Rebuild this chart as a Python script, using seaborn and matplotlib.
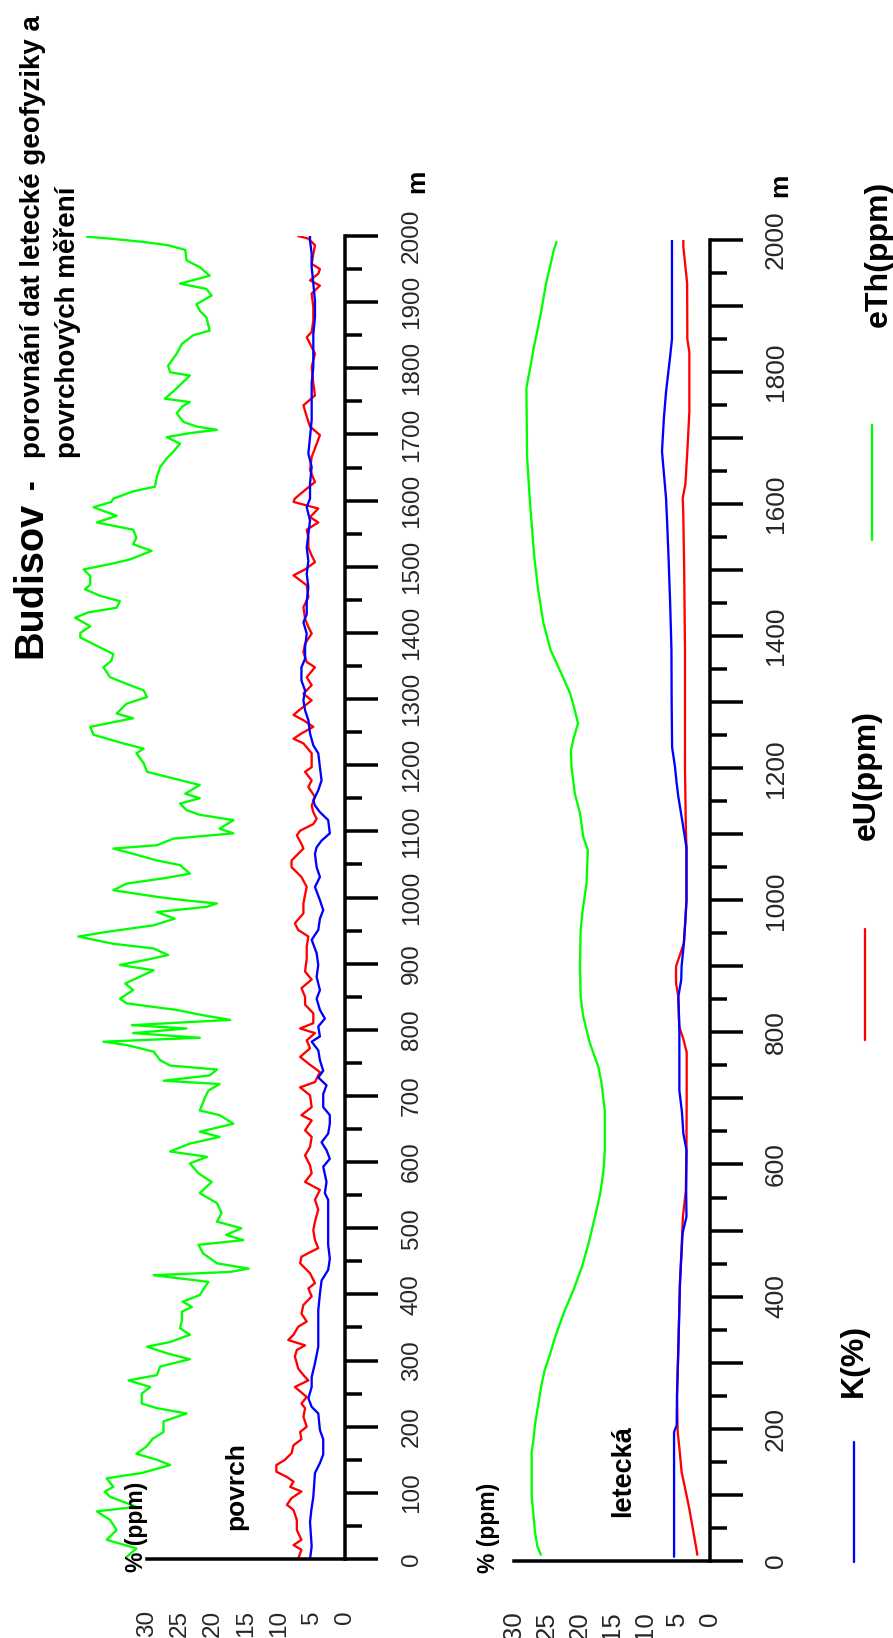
import matplotlib
matplotlib.use("Agg")
import matplotlib.pyplot as plt
import seaborn as sns
from matplotlib.lines import Line2D
from matplotlib.ticker import FixedLocator, FixedFormatter

sns.set_style("white")
plt.rcParams['font.family'] = ['Liberation Sans', 'DejaVu Sans']

# ---------------- data: surface measurement (povrch) ----------------
POV_ETH_D = [3, 16, 29, 44, 59, 72, 79, 94, 102, 109, 122, 130, 142, 150, 159, 170, 182, 192, 208, 220,
             228, 235, 250, 260, 270, 278, 291, 302, 311, 321, 328, 339, 349, 361, 374, 381, 389, 399, 407, 419,
             429, 434, 439, 447, 462, 475, 482, 490, 500, 510, 523, 538, 553, 570, 583, 598, 608, 616, 628, 638,
             646, 658, 671, 678, 698, 708, 718, 723, 731, 740, 746, 754, 767, 777, 782, 788, 795, 802, 807, 815,
             822, 830, 840, 847, 860, 870, 890, 898, 906, 913, 923, 930, 941, 948, 958, 968, 978, 986, 991, 996,
             1001, 1011, 1021, 1029, 1036, 1049, 1056, 1066, 1074, 1079, 1089, 1097, 1104, 1117, 1125, 1132, 1142,
             1150, 1157, 1170, 1180, 1190, 1203, 1218, 1225, 1233, 1246, 1258, 1266, 1271, 1278, 1293, 1303, 1313,
             1323, 1333, 1348, 1358, 1368, 1378, 1393, 1400, 1410, 1423, 1431, 1438, 1448, 1456, 1466, 1473, 1486,
             1496, 1504, 1511, 1524, 1534, 1544, 1556, 1567, 1577, 1590, 1598, 1603, 1614, 1621, 1636, 1651, 1664,
             1674, 1686, 1696, 1702, 1707, 1712, 1719, 1732, 1742, 1749, 1754, 1767, 1789, 1794, 1804, 1822, 1837,
             1850, 1857, 1877, 1887, 1897, 1910, 1920, 1928, 1940, 1953, 1963, 1979, 1986, 1991, 1996, 1999]
POV_ETH_V = [33.1, 31.6, 36.1, 34.6, 35.6, 37.6, 31.6, 35.6, 36.4, 35.1, 36.1, 30.8, 26.5, 28.5, 31.6, 30.1,
             29.1, 27.5, 27.5, 24.0, 28.5, 30.8, 30.8, 29.5, 32.8, 28.5, 28.0, 23.5, 27.0, 30.0, 26.5, 23.5, 25.0,
             24.7, 24.7, 23.2, 24.6, 22.0, 21.5, 20.7, 29.0, 17.4, 14.6, 19.4, 21.5, 22.2, 15.4, 18.0, 15.7, 19.4,
             18.7, 19.4, 22.0, 20.2, 22.2, 23.5, 20.9, 26.5, 23.5, 19.0, 22.0, 16.9, 19.0, 22.0, 21.2, 20.7, 19.0,
             27.5, 20.5, 19.4, 26.5, 28.0, 29.0, 33.1, 36.6, 22.0, 32.1, 24.0, 32.3, 17.4, 21.5, 25.5, 33.1, 34.1,
             32.1, 33.3, 29.0, 34.1, 30.0, 26.8, 29.0, 35.1, 40.4, 36.1, 29.0, 25.8, 28.5, 20.9, 19.4, 24.5, 28.5,
             35.1, 33.1, 27.5, 23.5, 25.0, 28.5, 32.1, 35.1, 28.5, 26.0, 16.9, 19.0, 16.9, 22.0, 24.0, 25.0, 22.0,
             24.2, 22.0, 26.0, 30.0, 30.5, 31.6, 30.5, 33.6, 38.1, 38.6, 34.6, 32.1, 34.6, 33.1, 30.0, 30.5, 33.1,
             35.6, 36.6, 35.4, 35.1, 37.1, 40.1, 40.1, 38.6, 40.9, 38.9, 34.6, 34.1, 37.1, 39.4, 38.6, 38.6, 39.6,
             35.6, 32.6, 29.3, 32.1, 31.6, 32.1, 37.6, 34.6, 38.1, 35.4, 35.1, 32.1, 28.8, 28.5, 28.0, 27.0, 26.0,
             25.0, 27.0, 23.5, 19.4, 22.5, 24.5, 25.5, 24.7, 23.5, 27.3, 25.8, 23.5, 26.5, 26.8, 25.5, 24.7, 23.0,
             20.5, 21.0, 22.0, 22.5, 20.2, 21.0, 25.0, 20.5, 22.0, 24.0, 24.2, 26.8, 30.5, 35.6, 39.1]

POV_EU_D = [0, 14, 21, 29, 44, 59, 74, 82, 92, 102, 109, 117, 124, 132, 142, 150, 160, 172, 181, 192, 200,
            215, 228, 235, 245, 260, 270, 278, 288, 296, 306, 316, 323, 331, 339, 351, 359, 371, 384, 397, 409,
            417, 432, 447, 457, 470, 482, 497, 510, 528, 543, 558, 570, 583, 595, 610, 623, 638, 648, 663, 671,
            683, 701, 713, 721, 736, 749, 759, 772, 784, 795, 802, 810, 825, 838, 850, 863, 876, 888, 908, 926,
            941, 951, 961, 976, 991, 1004, 1016, 1031, 1046, 1056, 1066, 1074, 1081, 1094, 1101, 1111, 1119, 1129,
            1139, 1152, 1167, 1177, 1190, 1197, 1218, 1233, 1240, 1248, 1258, 1268, 1276, 1286, 1298, 1308, 1321,
            1333, 1348, 1356, 1371, 1384, 1399, 1409, 1421, 1439, 1454, 1472, 1487, 1496, 1507, 1517, 1529, 1544,
            1556, 1567, 1575, 1588, 1598, 1603, 1616, 1628, 1646, 1666, 1679, 1699, 1712, 1727, 1744, 1759, 1777,
            1802, 1822, 1832, 1847, 1855, 1872, 1892, 1913, 1925, 1933, 1943, 1950, 1958, 1973, 1986, 1996, 2000]
POV_EU_V = [7.1, 6.6, 7.8, 6.6, 7.3, 7.3, 7.8, 8.8, 8.1, 6.6, 8.3, 7.8, 8.8, 10.4, 10.4, 9.1, 8.1, 7.8, 6.6,
            6.8, 5.8, 6.3, 6.05, 6.6, 5.8, 7.6, 5.55, 6.3, 7.1, 7.3, 7.6, 7.3, 6.05, 8.6, 7.8, 7.1, 5.8, 6.6, 6.3,
            5.05, 5.55, 4.55, 5.3, 6.8, 6.6, 4.05, 4.55, 4.8, 4.55, 4.05, 4.55, 3.8, 6.05, 5.05, 5.3, 6.05, 5.3,
            5.05, 6.05, 5.05, 6.6, 5.05, 5.3, 6.8, 4.55, 3.8, 5.55, 6.8, 5.3, 5.8, 4.55, 6.8, 4.8, 4.8, 6.05, 6.05,
            6.6, 5.05, 6.05, 5.8, 5.8, 5.55, 7.1, 7.6, 6.3, 6.3, 6.05, 5.8, 6.6, 8.1, 8.1, 7.1, 6.3, 6.6, 7.3, 6.8,
            4.8, 4.3, 4.8, 5.05, 4.55, 5.55, 5.05, 6.05, 5.05, 5.05, 6.3, 7.8, 6.6, 4.8, 6.3, 7.8, 6.6, 5.05, 6.3,
            5.05, 5.8, 4.55, 5.8, 6.3, 6.05, 5.05, 5.55, 6.05, 6.3, 5.55, 5.8, 7.8, 6.05, 4.55, 5.05, 5.55, 5.55,
            5.8, 4.05, 5.3, 4.05, 7.8, 7.6, 6.05, 4.55, 5.3, 5.05, 4.55, 3.8, 5.3, 5.8, 6.3, 4.55, 4.8, 5.05, 4.55,
            5.05, 5.8, 5.05, 4.8, 4.8, 5.05, 3.8, 5.3, 4.05, 3.8, 5.05, 4.8, 4.55, 5.55, 7.1]

POV_K_D = [0, 19, 56, 74, 94, 130, 145, 158, 181, 195, 220, 230, 243, 260, 275, 296, 321, 346, 376, 401,
           421, 437, 454, 475, 493, 518, 543, 553, 570, 593, 605, 618, 630, 643, 658, 671, 683, 703, 716, 728,
           738, 754, 769, 782, 790, 805, 817, 830, 847, 860, 880, 898, 916, 936, 951, 968, 981, 996, 1016, 1031,
           1046, 1066, 1076, 1086, 1097, 1117, 1129, 1139, 1147, 1162, 1177, 1197, 1218, 1230, 1248, 1268, 1283,
           1298, 1313, 1328, 1348, 1361, 1378, 1399, 1416, 1428, 1448, 1469, 1489, 1509, 1529, 1549, 1570, 1590,
           1603, 1626, 1651, 1671, 1696, 1722, 1752, 1777, 1802, 1827, 1852, 1877, 1902, 1928, 1953, 1973, 1993,
           2000]
POV_K_V = [5.3, 5.05, 5.3, 5.1, 4.8, 4.55, 3.8, 3.3, 3.3, 3.8, 4.05, 5.05, 5.55, 5.05, 5.05, 4.55, 4.05, 4.05,
           4.05, 3.8, 3.55, 2.55, 2.3, 2.55, 2.55, 2.55, 2.55, 3.05, 2.8, 3.3, 2.3, 2.8, 3.55, 2.55, 2.3, 2.3, 3.3,
           3.3, 2.8, 4.05, 3.3, 3.8, 4.05, 5.05, 3.8, 4.05, 3.05, 3.8, 4.3, 3.8, 4.3, 4.05, 4.3, 5.05, 4.05, 3.8,
           3.3, 3.8, 4.55, 3.8, 4.3, 4.55, 4.3, 3.55, 2.3, 2.55, 3.8, 4.55, 4.8, 4.05, 3.55, 3.8, 4.05, 4.8, 5.3,
           5.55, 6.05, 6.3, 6.05, 6.6, 6.6, 6.05, 6.05, 5.8, 6.3, 5.8, 5.8, 5.55, 5.8, 5.55, 5.8, 5.55, 5.3, 5.8,
           5.3, 5.3, 5.05, 5.55, 5.3, 5.05, 5.05, 5.05, 4.8, 4.8, 4.8, 4.55, 4.55, 4.8, 5.05, 5.05, 5.3, 5.3]

# ---------------- data: airborne measurement (letecká) ----------------
LET_ETH_D = [9, 21, 44, 67, 98, 129, 164, 185, 205, 236, 266, 289, 312, 339, 380, 410, 445, 480, 521, 556,
             591, 622, 681, 723, 748, 784, 824, 854, 900, 955, 985, 1026, 1076, 1096, 1132, 1162, 1202, 1227,
             1248, 1268, 1288, 1313, 1338, 1364, 1379, 1420, 1470, 1520, 1570, 1609, 1672, 1775, 1792, 1813,
             1836, 1864, 1894, 1934, 1959, 1985, 1997]
LET_ETH_V = [25.9, 26.4, 26.8, 27.0, 27.3, 27.3, 27.3, 27.0, 26.8, 26.3, 25.8, 25.3, 24.5, 23.7, 22.2, 20.9,
             19.6, 18.6, 17.6, 16.8, 16.3, 16.1, 16.1, 16.6, 17.1, 18.4, 19.4, 19.8, 19.9, 19.8, 19.5, 18.9, 18.7,
             19.4, 19.9, 20.7, 21.2, 21.3, 20.8, 20.2, 20.7, 21.4, 22.5, 23.7, 24.4, 25.5, 26.3, 26.9, 27.3, 27.6,
             28.0, 28.1, 27.8, 27.4, 27.0, 26.4, 25.8, 25.1, 24.5, 23.9, 23.5]

LET_EU_D = [9, 21, 44, 78, 103, 134, 172, 195, 250, 320, 420, 496, 521, 560, 622, 700, 770, 790, 808, 854,
            875, 900, 935, 965, 1000, 1080, 1110, 1200, 1379, 1500, 1590, 1609, 1630, 1680, 1740, 1830, 1850,
            1935, 1960, 1990, 2000]
LET_EU_V = [1.94, 2.14, 2.55, 3.16, 3.67, 4.34, 4.7, 4.95, 5.05, 4.85, 4.6, 4.25, 4.15, 3.7, 3.6, 3.57, 3.57,
            4.08, 4.69, 4.85, 5.2, 5.2, 4.0, 3.8, 3.6, 3.6, 3.7, 3.83, 3.83, 3.95, 4.1, 4.18, 3.77, 3.47, 3.16,
            3.16, 3.47, 3.5, 3.77, 4.08, 4.08]

LET_K_D = [6, 195, 205, 250, 320, 420, 496, 521, 560, 622, 647, 680, 712, 802, 854, 880, 900, 935, 965, 1000,
           1080, 1110, 1136, 1157, 1177, 1202, 1232, 1300, 1379, 1450, 1520, 1570, 1609, 1640, 1680, 1730, 1770,
           1800, 1822, 1850, 2000]
LET_K_V = [5.5, 5.5, 5.1, 5.05, 4.85, 4.6, 4.2, 3.6, 3.65, 3.6, 4.08, 4.3, 4.69, 4.69, 4.85, 4.4, 4.35, 4.0,
           3.8, 3.6, 3.6, 4.08, 4.5, 4.85, 5.1, 5.36, 5.8, 5.87, 5.9, 6.1, 6.35, 6.55, 6.73, 7.0, 7.35, 7.06,
           6.73, 6.38, 6.12, 5.82, 5.82]

VALUE_TICKS = [0, 5, 10, 15, 20, 25, 30]
DIST_TICKS = list(range(0, 2001, 100))
TITLE_MAIN = "Budisov"
TITLE_REST = "porovnání dat letecké geofyziky a"
TITLE_LINE2 = "povrchových měření"
LEGEND_NAMES = ["K(%)", "eU(ppm)", "eTh(ppm)"]
COL_K, COL_U, COL_TH = "#0000ff", "#ff0000", "#00ff00"

# ---------------- figure ----------------
W, H = 893, 1638
fig = plt.figure(figsize=(W / 100, H / 100), dpi=100)
fig.patch.set_facecolor("white")


def fx(x):
    return x / W


def fy(y):
    return 1 - y / H


PT = 72 / 100  # points per pixel
LW = 2.3 * PT


def setup_axis(ax, px_per_unit, x_right, y0, y2000, left_px, label_every, fs_d, fs_v, pad_d, pad_v):
    ax.set_position([fx(left_px), fy(y0), (x_right - left_px) / W, (y0 - y2000) / H])
    ax.set_xlim((x_right - left_px) / px_per_unit, 0)
    ax.set_ylim(0, 2000)
    ax.set_facecolor("none")
    for s in ("top", "left"):
        ax.spines[s].set_visible(False)
    for s in ("right", "bottom"):
        ax.spines[s].set_linewidth(3.5 * PT)
        ax.spines[s].set_color("black")
        ax.spines[s].set_capstyle("projecting")
    ax.spines["bottom"].set_bounds(0, 30)
    ax.yaxis.tick_right()
    ax.xaxis.set_major_locator(FixedLocator(VALUE_TICKS))
    ax.xaxis.set_minor_locator(FixedLocator([v + 2.5 for v in VALUE_TICKS[:-1]]))
    ax.xaxis.set_major_formatter(FixedFormatter([str(v) for v in VALUE_TICKS]))
    ax.yaxis.set_major_locator(FixedLocator(DIST_TICKS))
    ax.yaxis.set_minor_locator(FixedLocator([d + 50 for d in DIST_TICKS[:-1]]))
    ax.yaxis.set_major_formatter(FixedFormatter([str(d) if d % label_every == 0 else "" for d in DIST_TICKS]))
    ax.tick_params(which="major", direction="out", length=33 * PT, width=3.5 * PT, color="black")
    ax.tick_params(which="minor", direction="out", length=17 * PT, width=3.5 * PT, color="black")
    ax.tick_params(axis="y", which="major", labelrotation=90, labelsize=fs_d, pad=pad_d)
    ax.tick_params(axis="x", which="major", labelrotation=90, labelsize=fs_v, pad=pad_v)
    for lab in ax.get_yticklabels():
        lab.set_verticalalignment("center")
    ax.set_xlabel("")
    ax.set_ylabel("")
    ax.grid(False)


ax1 = fig.add_axes([0, 0, 1, 1])
ax2 = fig.add_axes([0, 0, 1, 1])

for ax, series in ((ax1, [(POV_ETH_V, POV_ETH_D, COL_TH), (POV_EU_V, POV_EU_D, COL_U), (POV_K_V, POV_K_D, COL_K)]),
                   (ax2, [(LET_ETH_V, LET_ETH_D, COL_TH), (LET_EU_V, LET_EU_D, COL_U), (LET_K_V, LET_K_D, COL_K)])):
    for v, d, c in series:
        sns.lineplot(x=v, y=d, orient="y", sort=False, estimator=None, color=c,
                     linewidth=LW, ax=ax, legend=False)

setup_axis(ax1, 6.6, 345, 1559, 236, 0, 100, 17.5, 17.5, 23 * PT, 18 * PT)
setup_axis(ax2, 6.533, 710, 1560.7, 240, 440, 200, 19, 18.5, 21 * PT, 18 * PT)


def rtext(x, y, s, size, weight="bold"):
    fig.text(fx(x), fy(y), s, rotation=90, rotation_mode="anchor", ha="left", va="baseline",
             fontsize=size, fontweight=weight, color="black")


# title
rtext(41, 658, TITLE_MAIN, 28.5)
rtext(40, 489, "-", 21)
rtext(40, 458, TITLE_REST, 20)
rtext(75, 458, TITLE_LINE2, 20)

# panel annotations
rtext(143, 1572, "% (ppm)", 16.5)
rtext(495, 1573, "% (ppm)", 16.5)
rtext(243, 1530, "povrch", 19)
rtext(630, 1517, "letecká", 19.5)
rtext(424, 193, "m", 19)
rtext(787, 197, "m", 19)

# legend
for (lx, ly0, ly1, tx, ty, name, col) in ((854, 1562, 1442, 862, 1397, LEGEND_NAMES[0], COL_K),
                                          (865, 1040, 929, 875, 840, LEGEND_NAMES[1], COL_U),
                                          (872, 540, 425, 887, 327, LEGEND_NAMES[2], COL_TH)):
    fig.add_artist(Line2D([fx(lx), fx(lx)], [fy(ly0), fy(ly1)], color=col, linewidth=LW,
                          transform=fig.transFigure))
    rtext(tx, ty, name, 23)

fig.savefig("out.png", dpi=100, facecolor="white")
